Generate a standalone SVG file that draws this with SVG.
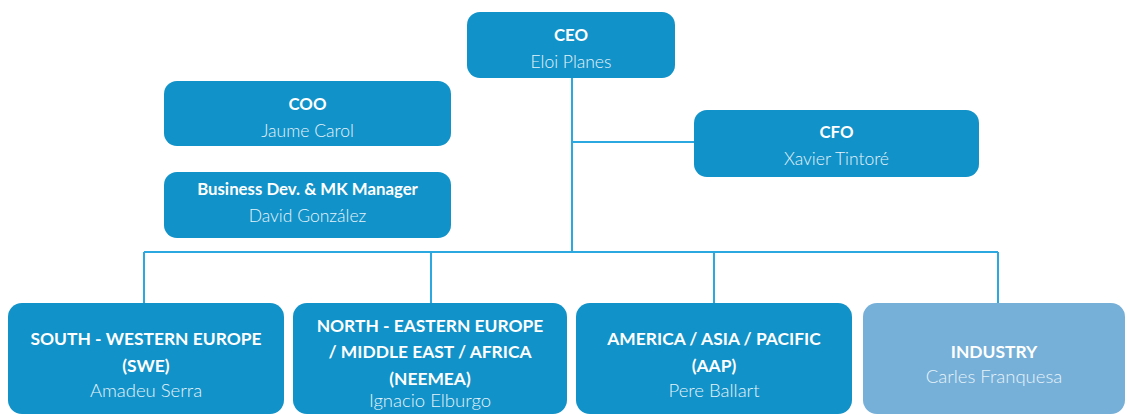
<svg xmlns="http://www.w3.org/2000/svg" width="1127" height="415" viewBox="0 0 1127 415">
<style>
.box{fill:#1192c8}
.box2{fill:#76b0d8}
.t{font-family:Lato,"Open Sans",sans-serif;font-weight:bold;fill:#ffffff;text-anchor:middle;font-size:16.8px}
.n{font-family:Lato,"Open Sans",sans-serif;font-weight:300;fill:#e6f3fa;text-anchor:middle;font-size:17.5px}
.bt{font-family:Lato,"Open Sans",sans-serif;font-weight:bold;fill:#ffffff;text-anchor:middle;font-size:17.4px}
.bn{font-family:Lato,"Open Sans",sans-serif;font-weight:300;fill:#e6f3fa;text-anchor:middle;font-size:18.5px}
.c{fill:none;stroke:#2ba8e0;stroke-width:2}
</style>
<rect width="1127" height="415" fill="#ffffff"/>
<g id="connectors">
<path class="c" d="M572,78 V252"/>
<path class="c" d="M572,142 H694"/>
<path class="c" d="M144,252 H998"/>
<path class="c" d="M144,252 V304"/>
<path class="c" d="M431,252 V304"/>
<path class="c" d="M714,252 V304"/>
<path class="c" d="M998,252 V304"/>
</g>
<g id="ceo">
<rect class="box" x="467" y="12" width="208" height="66" rx="13"/>
<text class="t" x="571" y="41">CEO</text>
<text class="n" x="571" y="68">Eloi Planes</text>
</g>
<g id="coo">
<rect class="box" x="164" y="81" width="287" height="65" rx="13"/>
<text class="t" x="307.5" y="110">COO</text>
<text class="n" x="307.5" y="137">Jaume Carol</text>
</g>
<g id="bizdev">
<rect class="box" x="164" y="172" width="287" height="66" rx="13"/>
<text class="t" x="307.5" y="195">Business Dev. &amp; MK Manager</text>
<text class="n" x="307.5" y="222">David González</text>
</g>
<g id="cfo">
<rect class="box" x="694" y="110" width="285" height="67" rx="13"/>
<text class="t" x="836.5" y="138">CFO</text>
<text class="n" x="836.5" y="165">Xavier Tintoré</text>
</g>
<g id="swe">
<rect class="box" x="8" y="303" width="276" height="111" rx="14"/>
<text class="bt" x="146" y="345">SOUTH - WESTERN EUROPE</text>
<text class="bt" x="146" y="372">(SWE)</text>
<text class="bn" x="146" y="397">Amadeu Serra</text>
</g>
<g id="neemea">
<rect class="box" x="293" y="303" width="274" height="111" rx="14"/>
<text class="bt" x="430" y="332">NORTH - EASTERN EUROPE</text>
<text class="bt" x="430" y="358">/ MIDDLE EAST / AFRICA</text>
<text class="bt" x="430" y="385">(NEEMEA)</text>
<text class="bn" x="430" y="407">Ignacio Elburgo</text>
</g>
<g id="aap">
<rect class="box" x="576" y="303" width="276" height="111" rx="14"/>
<text class="bt" x="714" y="345">AMERICA / ASIA / PACIFIC</text>
<text class="bt" x="714" y="372">(AAP)</text>
<text class="bn" x="714" y="397">Pere Ballart</text>
</g>
<g id="industry">
<rect class="box2" x="863" y="303" width="262" height="111" rx="14"/>
<text class="bt" x="994" y="358">INDUSTRY</text>
<text class="bn" x="994" y="383">Carles Franquesa</text>
</g>
</svg>
